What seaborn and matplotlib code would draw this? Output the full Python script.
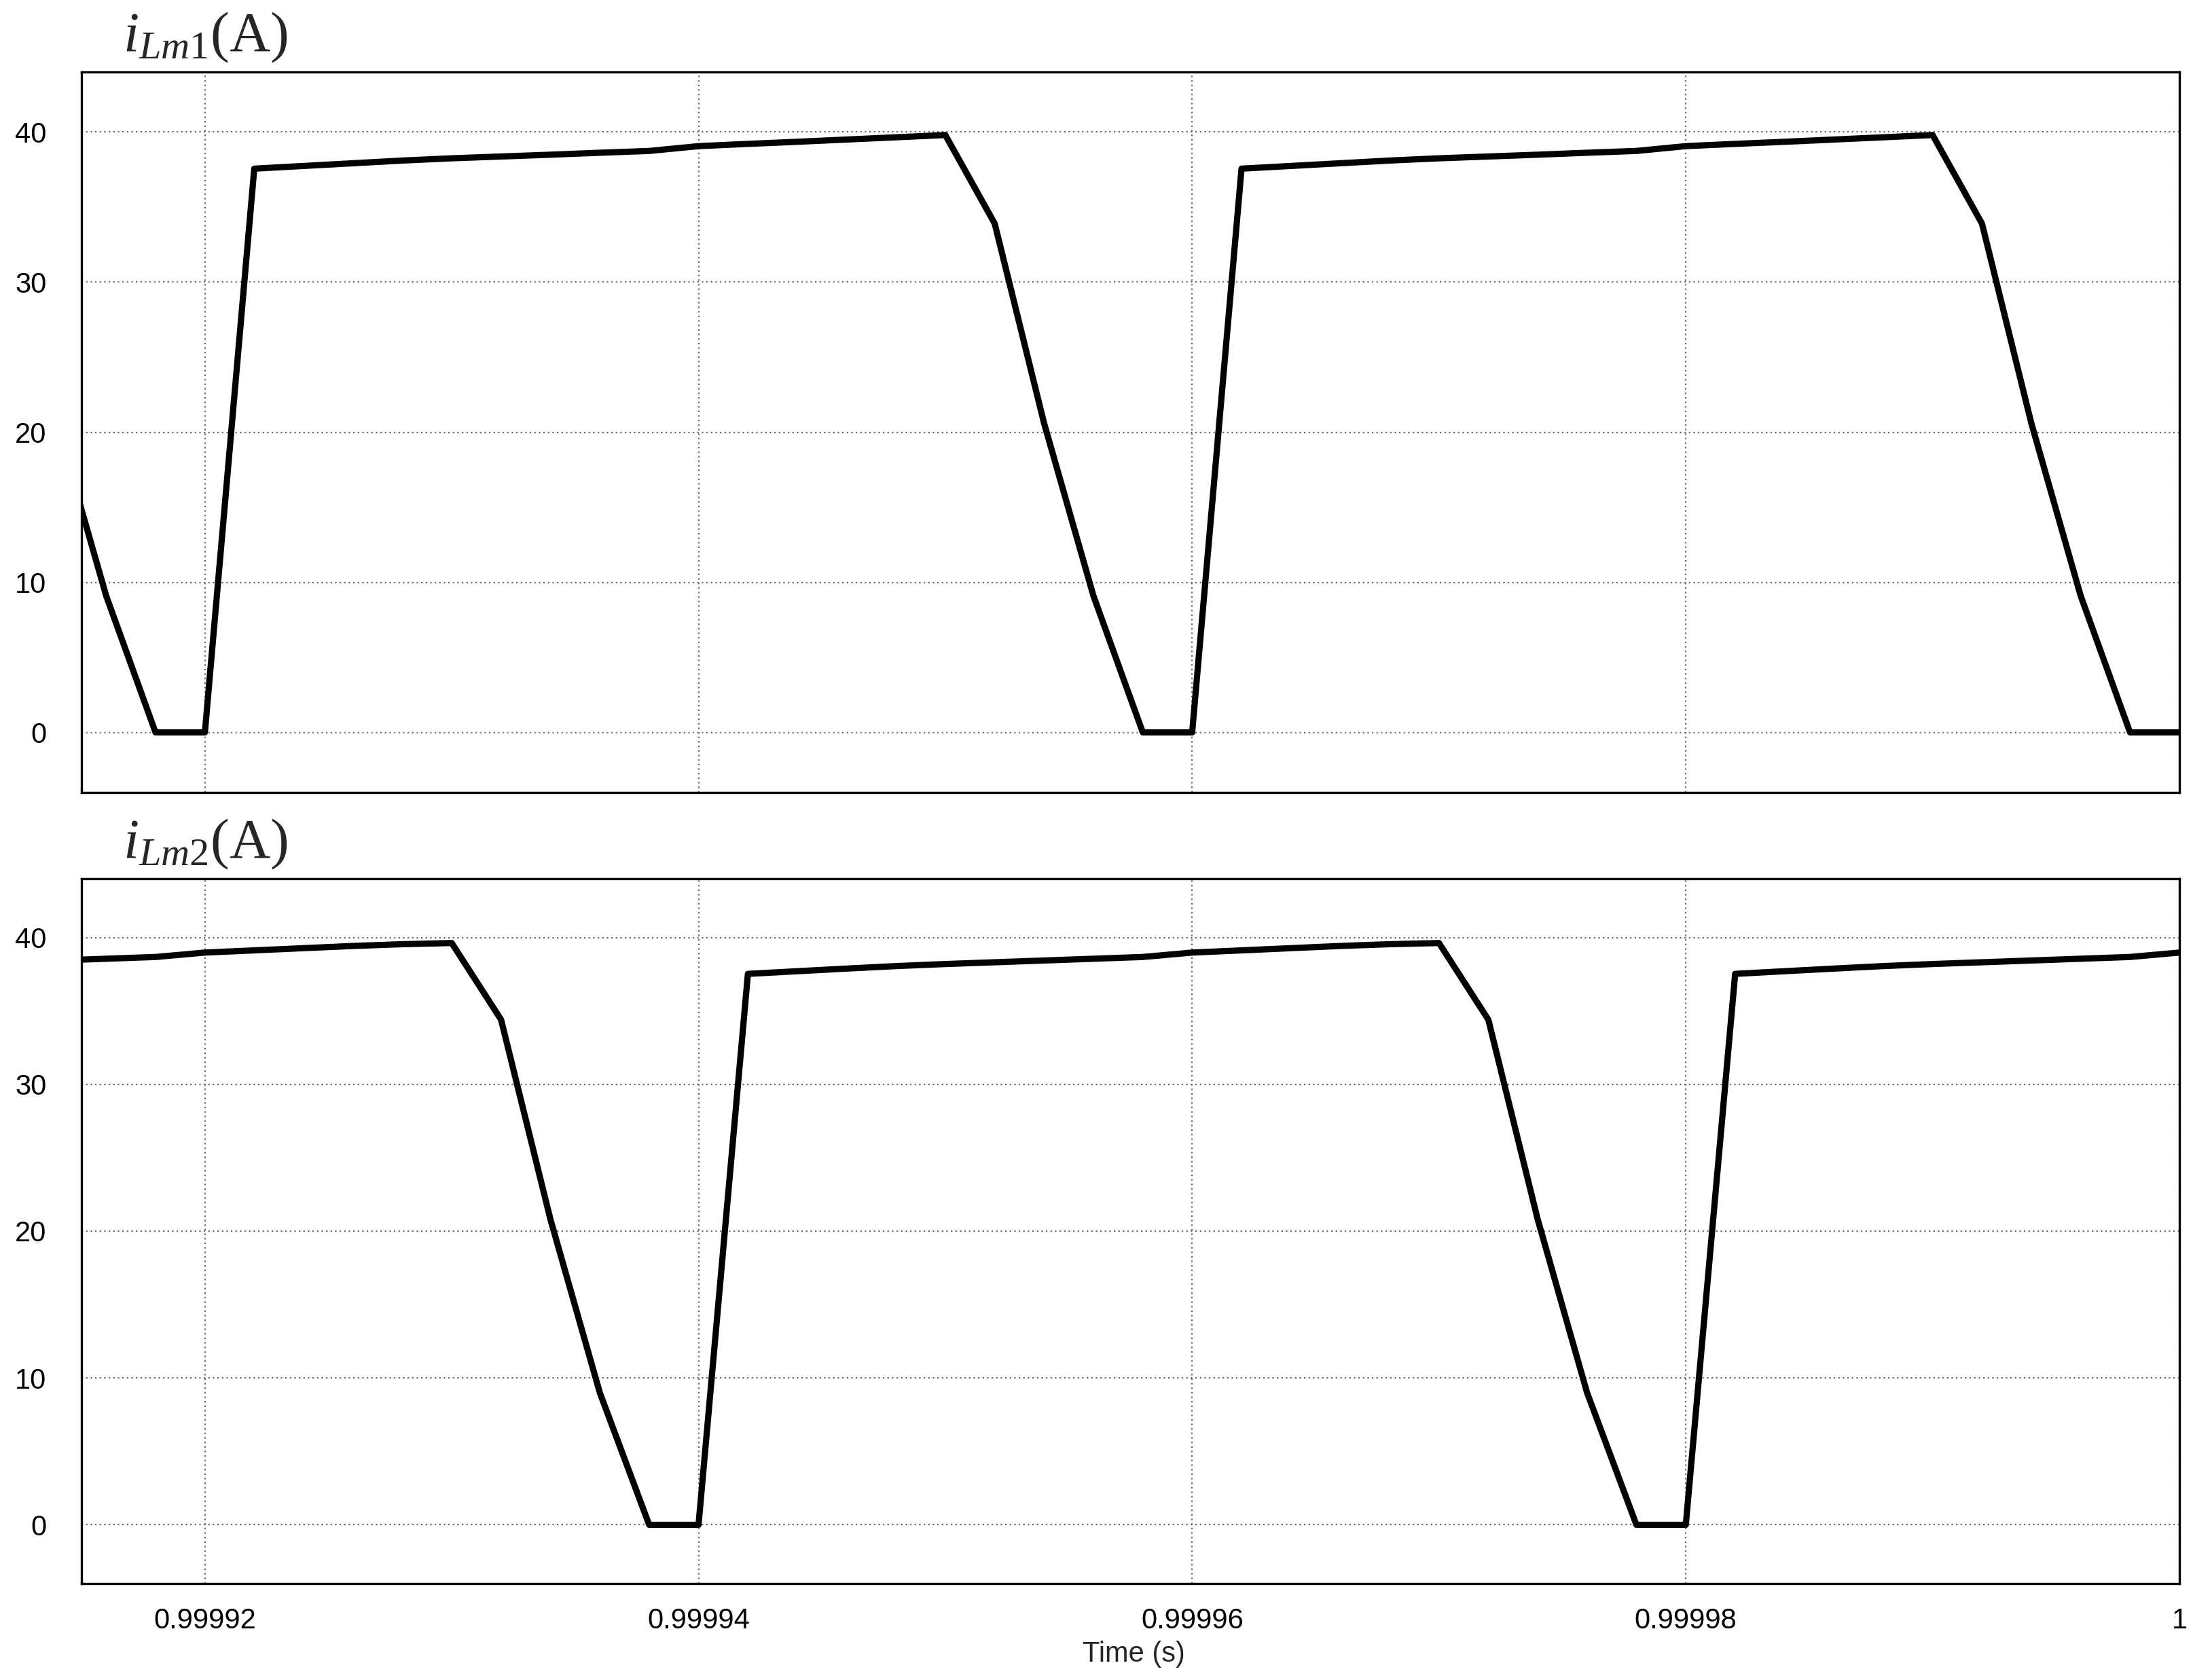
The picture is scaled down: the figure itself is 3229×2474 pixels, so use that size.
import numpy as np
import pandas as pd
import matplotlib
matplotlib.use('Agg')
import matplotlib.pyplot as plt
import seaborn as sns

# Magnetising currents i_Lm1 / i_Lm2, sampled every 2 us (steady state)
time_s = [0.999914, 0.999916, 0.999918, 0.999920, 0.999922, 0.999924, 0.999926, 0.999928,
          0.999930, 0.999932, 0.999934, 0.999936, 0.999938, 0.999940, 0.999942, 0.999944,
          0.999946, 0.999948, 0.999950, 0.999952, 0.999954, 0.999956, 0.999958, 0.999960,
          0.999962, 0.999964, 0.999966, 0.999968, 0.999970, 0.999972, 0.999974, 0.999976,
          0.999978, 0.999980, 0.999982, 0.999984, 0.999986, 0.999988, 0.999990, 0.999992,
          0.999994, 0.999996, 0.999998, 1.000000]

i_lm1 = [20.6, 9.1, 0.0, 0.0, 37.56, 37.74, 37.92, 38.10,
         38.25, 38.37, 38.49, 38.62, 38.74, 39.06, 39.21, 39.35,
         39.50, 39.65, 39.80, 33.9, 20.6, 9.1, 0.0, 0.0,
         37.56, 37.74, 37.92, 38.10, 38.25, 38.37, 38.49, 38.62,
         38.74, 39.06, 39.21, 39.35, 39.50, 39.65, 39.80, 33.9,
         20.6, 9.1, 0.0, 0.0]

i_lm2 = [38.43, 38.55, 38.67, 38.97, 39.12, 39.27, 39.42, 39.54,
         39.62, 34.4, 20.8, 9.0, 0.0, 0.0, 37.52, 37.70,
         37.88, 38.05, 38.19, 38.31, 38.43, 38.55, 38.67, 38.97,
         39.12, 39.27, 39.42, 39.54, 39.62, 34.4, 20.8, 9.0,
         0.0, 0.0, 37.52, 37.70, 37.88, 38.05, 38.19, 38.31,
         38.43, 38.55, 38.67, 38.97]

x_ticks = [0.99992, 0.99994, 0.99996, 0.99998, 1.0]
x_tick_labels = ['0.99992', '0.99994', '0.99996', '0.99998', '1']
y_ticks = [0, 10, 20, 30, 40]
titles = [r'$i_{Lm1}\mathrm{(A)}$', r'$i_{Lm2}\mathrm{(A)}$']

df = pd.DataFrame({'Time (s)': time_s, 'iLm1': i_lm1, 'iLm2': i_lm2})

sns.set_theme(style='white')
plt.rcParams['font.family'] = ['Liberation Sans', 'DejaVu Sans']
plt.rcParams['mathtext.fontset'] = 'custom'
plt.rcParams['mathtext.rm'] = 'Liberation Serif'
plt.rcParams['mathtext.it'] = 'Liberation Serif:italic'
plt.rcParams['mathtext.bf'] = 'Liberation Serif:bold'

fig = plt.figure(figsize=(3229 / 200, 2474 / 200), dpi=200)
ax1 = fig.add_axes([0.03716, 0.52829, 0.95665, 0.42886])
ax2 = fig.add_axes([0.03716, 0.05740, 0.95665, 0.41956])

for ax, col in [(ax1, 'iLm1'), (ax2, 'iLm2')]:
    sns.lineplot(data=df, x='Time (s)', y=col, ax=ax, color='black', lw=3.3,
                 estimator=None, zorder=3)
    ax.set_xlim(0.999915, 1.0)
    ax.set_ylim(-4, 44)
    ax.set_xticks(x_ticks)
    ax.set_yticks(y_ticks)
    ax.grid(True, color='#6a6a6a', linestyle=(0, (1, 2)), lw=0.8)
    ax.tick_params(axis='x', length=0, labelsize=15, colors='black', pad=12.5)
    ax.tick_params(axis='y', length=0, labelsize=15, colors='black', pad=18.5)
    for s in ax.spines.values():
        s.set_visible(True)
        s.set_color('black')
        s.set_linewidth(1.2)
    ax.set_xlabel('')
    ax.set_ylabel('')

ax1.tick_params(axis='x', labelbottom=False)
ax2.set_xticklabels(x_tick_labels)

fig.text(0.0560, 0.9697, titles[0], fontsize=30, ha='left', va='baseline')
fig.text(0.0560, 0.4895, titles[1], fontsize=30, ha='left', va='baseline')
fig.text(0.5169, 0.0109, 'Time (s)', fontsize=15, ha='center', va='baseline')

fig.savefig('out.png', dpi=200)
